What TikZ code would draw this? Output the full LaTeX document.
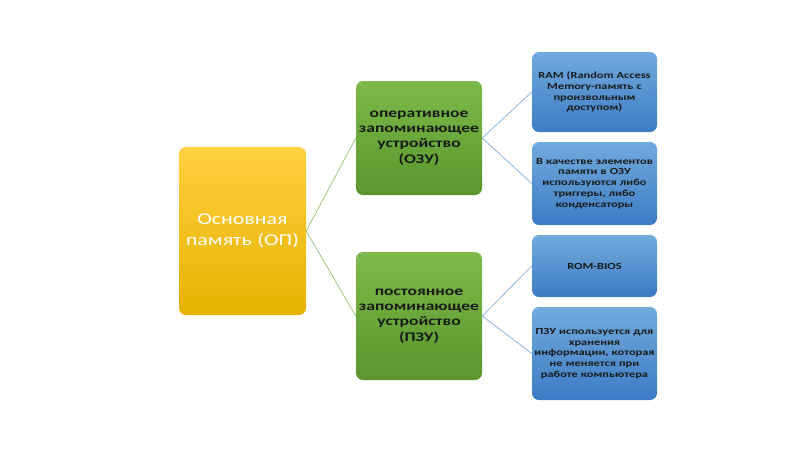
\documentclass[tikz,border=0pt]{standalone}
\usepackage{fontspec}
\setmainfont{Carlito}[FakeStretch=1.33]

\definecolor{opTop}{RGB}{255,208,64}
\definecolor{opBot}{RGB}{230,178,0}
\definecolor{zuTop}{RGB}{124,186,74}
\definecolor{zuBot}{RGB}{90,150,44}
\definecolor{itTop}{RGB}{114,170,222}
\definecolor{itBot}{RGB}{60,124,196}
\definecolor{linkGreen}{RGB}{160,198,124}
\definecolor{linkBlue}{RGB}{140,180,222}

\begin{document}
\begin{tikzpicture}[
    x=1pt, y=-1pt,
    box/.style={
        rectangle, rounded corners=7pt, align=center,
        inner sep=1pt
    },
    mainbox/.style={box, text width=125pt, minimum height=168pt,
        top color=opTop, bottom color=opBot,
        font=\fontsize{16.5}{20.5}\selectfont, text=white},
    zubox/.style={box, text width=124pt,
        top color=zuTop, bottom color=zuBot,
        font=\fontsize{13.2}{15.3}\selectfont\bfseries, text=black!90},
    itembox/.style={box, text width=123pt,
        top color=itTop, bottom color=itBot,
        font=\fontsize{9.3}{10.8}\selectfont\bfseries, text=black!90},
    glink/.style={line width=0.8pt, linkGreen},
    blink/.style={line width=0.8pt, linkBlue}
]
\useasboundingbox (0,0) rectangle (800,450);

\node[mainbox] at (242.5,231) (op) {Основная\\память (ОП)};

\node[zubox, minimum height=114pt] at (419,138) (ozu)
    {оперативное\\запоминающее\\устройство\\(ОЗУ)};
\node[zubox, minimum height=128pt] at (419,316) (pzu)
    {постоянное\\запоминающее\\устройство\\(ПЗУ)};

\node[itembox, minimum height=80pt] at (594.5,92)  (ram)
    {RAM~(Random~Access\\Memory-память~с\\произвольным\\доступом)};
\node[itembox, minimum height=83pt] at (594.5,183.5) (trig)
    {В~качестве~элементов\\памяти~в~ОЗУ\\используются~либо\\триггеры,~либо\\конденсаторы};
\node[itembox, minimum height=62pt] at (594.5,266) (rom)
    {ROM-BIOS};
\node[itembox, minimum height=93pt] at (594.5,353.5) (keep)
    {ПЗУ~используется~для\\хранения\\информации,~которая\\не~меняется~при\\работе~компьютера};

\draw[glink] (op.east) -- (ozu.west);
\draw[glink] (op.east) -- (pzu.west);

\draw[blink] (ozu.east) -- (ram.west);
\draw[blink] (ozu.east) -- (trig.west);
\draw[blink] (pzu.east) -- (rom.west);
\draw[blink] (pzu.east) -- (keep.west);

\end{tikzpicture}
\end{document}
